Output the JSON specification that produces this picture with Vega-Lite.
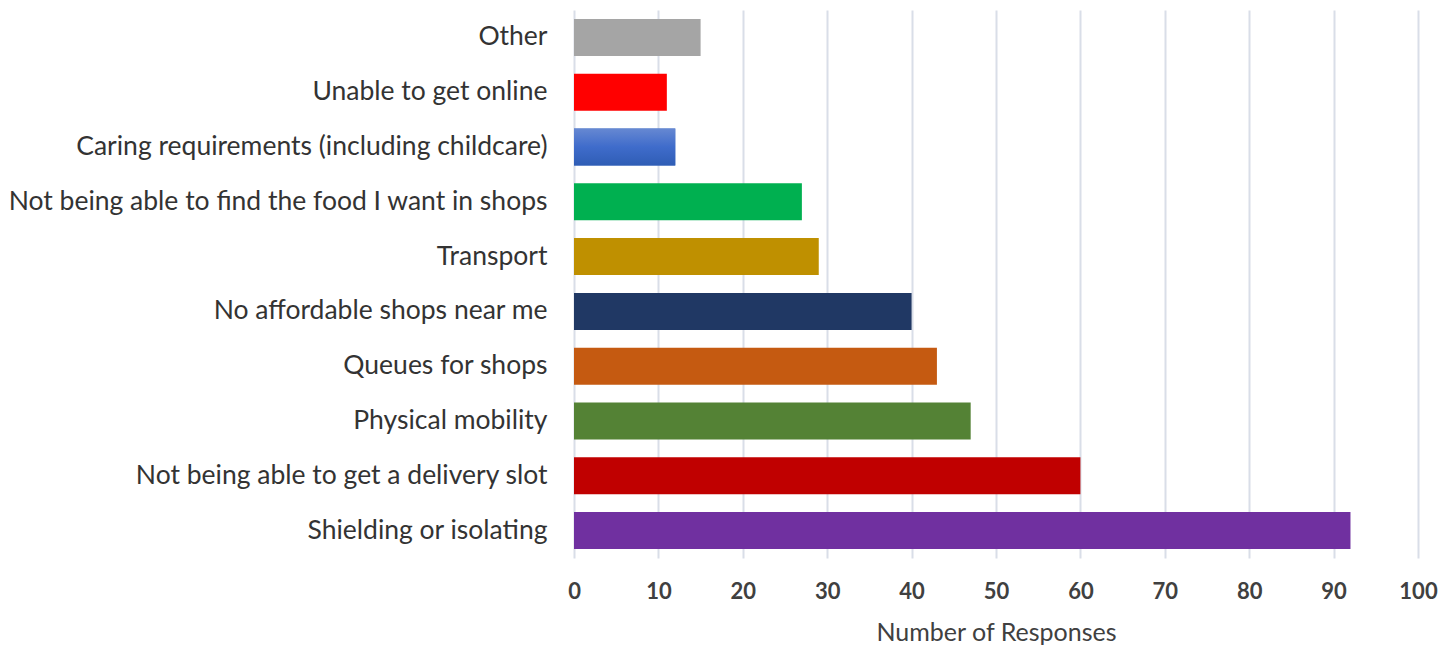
{
  "$schema": "https://vega.github.io/schema/vega-lite/v6.json",
  "autosize": {"type": "none"},
  "padding": {"left": 574, "top": 10, "right": 34, "bottom": 89},
  "width": 844,
  "height": 548,
  "background": "white",
  "config": {"view": {"stroke": null}},
  "data": {
    "values": [
      {"reason": "Other", "responses": 15},
      {"reason": "Unable to get online ", "responses": 11},
      {"reason": "Caring requirements (including childcare)", "responses": 12},
      {"reason": "Not being able to find the food I want in shops", "responses": 27},
      {"reason": "Transport", "responses": 29},
      {"reason": "No affordable shops near me", "responses": 40},
      {"reason": "Queues for shops", "responses": 43},
      {"reason": "Physical mobility", "responses": 47},
      {"reason": "Not being able to get a delivery slot", "responses": 60},
      {"reason": "Shielding or isolating", "responses": 92}
    ]
  },
  "encoding": {
    "y": {
      "field": "reason", "type": "nominal", "sort": null,
      "scale": {"paddingInner": 0.325, "paddingOuter": 0.1625},
      "axis": {"title": null, "domain": false, "ticks": false, "labelPadding": 27,
               "labelFont": "Lato", "labelFontSize": 26.5, "labelColor": "#333333", "labelLimit": 600}
    },
    "x": {
      "field": "responses", "type": "quantitative",
      "scale": {"domain": [0, 100], "nice": false},
      "axis": {"values": [0,10,20,30,40,50,60,70,80,90,100], "domain": false, "ticks": false,
               "gridColor": "#D9DEE8", "gridWidth": 2,
               "labelFont": "Lato", "labelFontSize": 22, "labelFontWeight": "bold", "labelColor": "#404040",
               "labelPadding": 23, "labelFlush": false,
               "title": "Number of Responses", "titleFont": "Lato", "titleFontSize": 25,
               "titleFontWeight": "normal", "titleColor": "#404040", "titlePadding": 18}
    }
  },
  "layer": [
    {
      "mark": {"type": "bar"},
      "encoding": {
        "color": {
          "field": "reason", "type": "nominal", "legend": null,
          "scale": {
            "domain": ["Other", "Unable to get online ", "Caring requirements (including childcare)", "Not being able to find the food I want in shops", "Transport", "No affordable shops near me", "Queues for shops", "Physical mobility", "Not being able to get a delivery slot", "Shielding or isolating"],
            "range": ["#A5A5A5", "#FF0000", "#4472C4", "#00B050", "#BF9000", "#203864", "#C55A11", "#548235", "#C00000", "#7030A0"]
          }
        }
      }
    },
    {
      "transform": [{"filter": "datum.reason === 'Caring requirements (including childcare)'"}],
      "mark": {
        "type": "bar",
        "color": {"gradient": "linear", "x1": 0, "y1": 0, "x2": 0, "y2": 1,
                  "stops": [{"offset": 0, "color": "#6688D2"}, {"offset": 0.5, "color": "#3F6CCB"}, {"offset": 1, "color": "#2F5DB5"}]}
      }
    }
  ]
}
